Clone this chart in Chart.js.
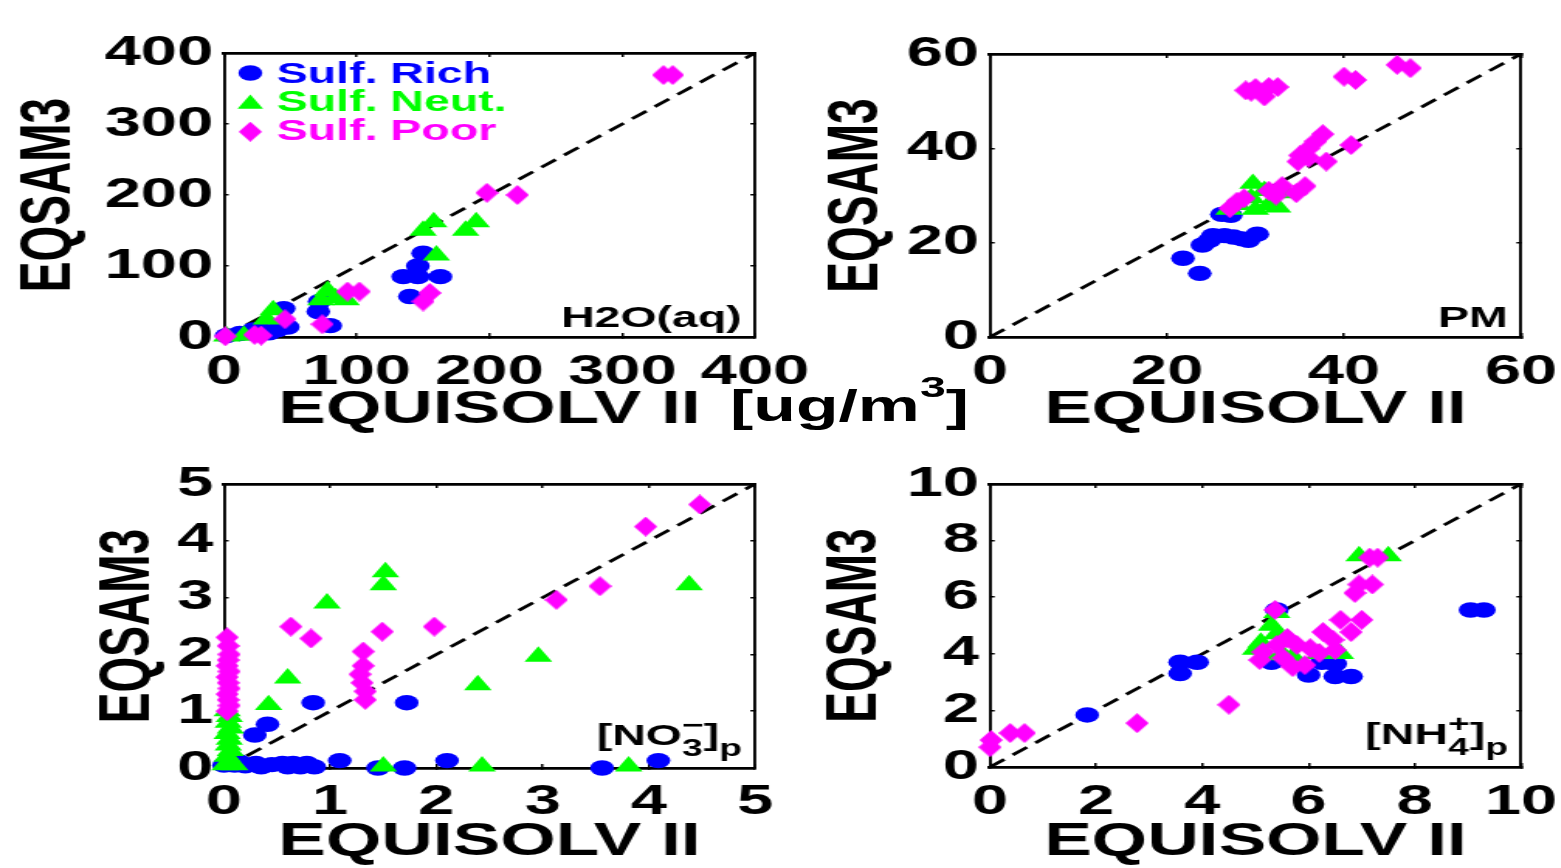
<!DOCTYPE html>
<html>
<head>
<meta charset="utf-8">
<script src="https://cdn.jsdelivr.net/npm/chart.js@4.4.1/dist/chart.umd.min.js"></script>
<style>
  html, body { margin: 0; padding: 0; background: #fff; overflow: hidden; }
  /* the original figure is stretched sideways, so the whole page is drawn narrow and scaled */
  #figure { position: absolute; left: 0; top: 0; width: 1007px; height: 868px;
            transform: scaleX(1.55); transform-origin: 0 0; }
  #figure canvas { position: absolute; }
  #units { position: absolute; left: 471px; top: 380px; line-height: 1; white-space: nowrap;
           font: bold 45px 'Liberation Sans', Arial, sans-serif; color: #000; }
  #units span { position: relative; top: -24px; font-size: 30px; line-height: 1; }
</style>
</head>
<body>
<div id="figure">
  <canvas id="h2o"></canvas>
  <canvas id="pm"></canvas>
  <canvas id="no3"></canvas>
  <canvas id="nh4"></canvas>
  <div id="units">[ug/m<span>3</span>]</div>
</div>
<script>
const FONT = "'Liberation Sans', Arial, sans-serif";

const seriesNames = ['Sulf. Rich', 'Sulf. Neut.', 'Sulf. Poor'];
const seriesColors = ['#0000ff', '#00ff00', '#ff00ff'];

// points are [EQUISOLV II, EQSAM3]
// H2O(aq)
const h2oTicks = [0, 100, 200, 300, 400];
const h2oRich = [[2, 2], [12, 5], [22, 10], [30, 8], [34, 6], [40, 10], [48, 14], [45, 40], [72, 50],
  [71, 36], [80, 16], [140, 57], [135, 85], [146, 85], [163, 85], [146, 100], [150, 118]];
const h2oNeut = [[2, 1], [15, 2], [32, 25], [37, 38], [73, 52], [78, 65], [84, 55], [92, 52],
  [150, 150], [158, 162], [182, 150], [190, 162], [160, 115]];
const h2oPoor = [[1, 1], [23, 3], [28, 2], [46, 25], [74, 18], [93, 64], [102, 64], [150, 50],
  [155, 62], [198, 203], [221, 200], [331, 369], [338, 369]];

// PM
const pmTicks = [0, 20, 40, 60];
const pmRich = [[21.8, 16.7], [23.7, 13.5], [24, 19.5], [24.8, 20.5], [25.2, 21.5], [26.5, 21.5],
  [27.5, 21.2], [28.5, 20.8], [29.2, 20.5], [30.2, 21.8], [26.2, 26], [27.2, 25.8]];
const pmNeut = [[27, 27], [28, 28], [29.5, 29.5], [29.7, 32.5], [31, 31], [31.5, 28], [32.5, 27.5],
  [33.5, 30.5], [30, 27]];
const pmPoor = [[27.1, 27.3], [27.9, 28.7], [28.7, 29.4], [31.5, 31], [32.3, 30], [33, 32], [34.6, 30.5],
  [35.6, 32], [34.8, 37.2], [36, 38], [38, 37.2], [35, 38.5], [36, 40], [36.8, 41.5], [37.6, 43],
  [40.8, 40.7], [28.9, 52.3], [29.5, 52], [30, 52.8], [31, 51], [31.5, 53], [32.5, 53], [40, 55.2],
  [41.3, 54.5], [46, 57.7], [47.5, 57]];

// [NO3-]p
const no3Ticks = [0, 1, 2, 3, 4, 5];
const no3Rich = [[0, 0.05], [0.05, 0.1], [0.1, 0.05], [0.15, 0.1], [0.2, 0.04], [0.3, 0.08], [0.35, 0.02],
  [0.45, 0.06], [0.55, 0.08], [0.6, 0.02], [0.65, 0.08], [0.72, 0.02], [0.78, 0.08], [0.85, 0.02],
  [1.09, 0.13], [1.45, 0], [1.7, 0], [2.1, 0.13], [3.56, 0], [4.09, 0.13], [0.29, 0.58], [0.41, 0.77],
  [0.84, 1.15], [1.72, 1.15]];
const no3Neut = [[0.01, 0.05], [0.1, 0.05], [0.03, 0.2], [0.06, 0.3], [0.04, 0.4], [0.05, 0.5], [0.03, 0.6],
  [0.06, 0.7], [0.04, 0.8], [0.05, 0.9], [0.03, 1.0], [0.42, 1.11], [0.6, 1.58], [0.97, 2.9], [1.5, 3.22],
  [1.52, 3.45], [1.5, 0.03], [2.43, 0.03], [2.39, 1.46], [2.96, 1.96], [3.81, 0.03], [4.38, 3.22]];
const no3Poor = [[0.03, 1.0], [0.05, 1.1], [0.04, 1.2], [0.03, 1.3], [0.05, 1.4], [0.04, 1.5], [0.03, 1.6],
  [0.05, 1.7], [0.03, 1.8], [0.04, 1.9], [0.05, 2.0], [0.04, 2.15], [0.03, 2.3], [0.63, 2.49], [0.82, 2.28],
  [1.33, 1.2], [1.33, 1.35], [1.3, 1.5], [1.28, 1.65], [1.31, 1.8], [1.31, 2.05], [1.49, 2.4], [1.98, 2.49],
  [3.13, 2.96], [3.54, 3.2], [3.97, 4.25], [4.48, 4.64]];

// [NH4+]p
const nh4Ticks = [0, 2, 4, 6, 8, 10];
const nh4Rich = [[1.83, 1.84], [3.58, 3.3], [3.58, 3.7], [3.9, 3.7], [5.3, 3.7], [5.4, 5.55], [6.0, 3.25],
  [6.25, 3.7], [6.5, 3.65], [6.5, 3.2], [6.8, 3.2], [9.05, 5.55], [9.3, 5.55]];
const nh4Neut = [[5.0, 4.15], [5.1, 4.4], [5.2, 3.95], [5.4, 4.7], [5.3, 5.0], [5.4, 5.45], [5.5, 4.0],
  [5.7, 3.9], [6.2, 4.0], [6.6, 4.0], [6.95, 7.45], [7.5, 7.45]];
const nh4Poor = [[0, 0.7], [0.02, 0.95], [0.38, 1.2], [0.65, 1.2], [2.77, 1.55], [4.5, 2.2], [5.08, 3.78],
  [5.14, 4.06], [5.4, 4.31], [5.52, 3.85], [5.6, 4.56], [5.7, 3.53], [5.78, 4.31], [5.93, 3.6], [6.03, 4.2],
  [6.2, 4.03], [6.27, 4.77], [6.46, 4.49], [6.5, 4.13], [6.6, 5.2], [6.8, 4.77], [7.0, 5.2], [5.37, 5.55],
  [6.87, 6.15], [6.95, 6.45], [7.2, 6.45], [7.15, 7.4], [7.3, 7.4]];

Chart.defaults.font.family = FONT;
Chart.defaults.color = '#000';

// diamonds in the figure are taller than the built-in rectRot
const diamond = document.createElement('canvas');
diamond.width = 15;
diamond.height = 20;
(function () {
  const c = diamond.getContext('2d');
  c.fillStyle = seriesColors[2];
  c.beginPath();
  c.moveTo(7.5, 0); c.lineTo(15, 10); c.lineTo(7.5, 20); c.lineTo(0, 10);
  c.closePath();
  c.fill();
})();

const toXY = pts => pts.map(([x, y]) => ({ x, y }));

// label in the lower right corner, with TeX-like sub/superscripts
function cornerTag(parts, lift) {
  return {
    id: 'cornerTag',
    afterDatasetsDraw(chart) {
      const { ctx, chartArea: a } = chart;
      const big = 'bold 30px ' + FONT, small = 'bold 24px ' + FONT;
      ctx.save();
      ctx.fillStyle = '#000';
      ctx.textBaseline = 'alphabetic';
      ctx.textAlign = 'left';
      const widths = parts.map(p => {
        if (p.text) { ctx.font = big; return ctx.measureText(p.text).width; }
        ctx.font = small;
        return Math.max(...[p.sup, p.sub].filter(Boolean).map(t => ctx.measureText(t).width));
      });
      let x = a.right - 8.5 - widths.reduce((s, w) => s + w, 0);
      const base = a.bottom - lift;
      parts.forEach((p, i) => {
        if (p.text) {
          ctx.font = big;
          ctx.fillText(p.text, x, base);
        } else {
          ctx.font = small;
          if (p.sup) ctx.fillText(p.sup, x, base - 12);
          if (p.sub) ctx.fillText(p.sub, x, base + 11);
        }
        x += widths[i];
      });
      ctx.restore();
    }
  };
}

// legend sits inside the first panel, markers then coloured text
const insetLegend = {
  id: 'insetLegend',
  afterDatasetsDraw(chart) {
    const { ctx, chartArea: a } = chart;
    const markerY = [20, 51, 78.7];
    const textY = [22, 50, 79];
    const mx = a.left + 17;
    ctx.save();
    ctx.font = 'bold 30px ' + FONT;
    ctx.textBaseline = 'middle';
    ctx.textAlign = 'left';
    seriesNames.forEach((name, i) => {
      const y = a.top + markerY[i];
      ctx.fillStyle = seriesColors[i];
      ctx.beginPath();
      if (i === 0) {
        ctx.arc(mx, y, 7.7, 0, Math.PI * 2);
        ctx.fill();
      } else if (i === 1) {
        const r = 9.5, h = r * Math.sin(Math.PI / 3);
        ctx.moveTo(mx, y - r); ctx.lineTo(mx + h, y + r / 2); ctx.lineTo(mx - h, y + r / 2);
        ctx.closePath();
        ctx.fill();
      } else {
        ctx.drawImage(diamond, mx - 7.5, y - 10);
      }
      ctx.fillText(name, a.left + 34, a.top + textY[i]);
    });
    ctx.restore();
  }
};

function axisBase(ticks, pos, horizontal, size) {
  const lo = ticks[0], hi = ticks[ticks.length - 1];
  return {
    type: 'linear',
    axis: horizontal ? 'x' : 'y',
    position: pos,
    min: lo,
    max: hi,
    ticks: { display: false, stepSize: ticks[1] - ticks[0] },
    grid: { drawOnChartArea: false, color: '#000', lineWidth: 1.5, tickLength: horizontal ? -4 : -3 },
    border: { display: true, color: '#000', width: horizontal ? 2.8 : 1.9 },
    afterFit: s => { if (horizontal) s.height = size; else s.width = size; }
  };
}

function drawPanel(id, ticks, rich, neut, poor, tag, lift, lay, extra) {
  const box = lay.box, area = lay.area;
  const canvas = document.getElementById(id);
  canvas.width = box.width;
  canvas.height = box.height;
  canvas.style.left = box.left + 'px';
  canvas.style.top = box.top + 'px';

  const yWidth = area.left - box.left;
  const xHeight = box.top + box.height - area.bottom;
  const tickFont = { size: 42, weight: 'bold' };
  const titleFont = { size: 46, weight: 'bold', lineHeight: 1 };
  const hi = ticks[ticks.length - 1];

  const x = axisBase(ticks, 'bottom', true, xHeight);
  x.ticks = { display: true, stepSize: ticks[1] - ticks[0], font: tickFont, color: '#000',
              padding: lay.xTickY - area.bottom + 4 - 25.2, maxRotation: 0, autoSkip: false };
  x.title = { display: true, text: 'EQUISOLV II', color: '#000', font: titleFont,
              padding: { top: 0, bottom: box.top + box.height - lay.xTitleY - 23 } };
  const y = axisBase(ticks, 'left', false, yWidth);
  y.ticks = { display: true, stepSize: ticks[1] - ticks[0], font: tickFont, color: '#000',
              padding: 10, autoSkip: false };
  y.title = { display: true, text: 'EQSAM3', color: '#000', font: titleFont,
              padding: { top: lay.yTitleX - box.left - 23, bottom: 0 } };

  const scatter = (data, i, style, radius, order) => ({
    label: seriesNames[i],
    data: toXY(data),
    pointStyle: style,
    pointRadius: radius,
    pointBorderWidth: 0,
    backgroundColor: seriesColors[i],
    borderColor: seriesColors[i],
    clip: false,
    order: order
  });

  new Chart(canvas, {
    type: 'scatter',
    data: {
      datasets: [
        scatter(rich, 0, 'circle', 7.7, 3),
        scatter(neut, 1, 'triangle', 10.3, 2),
        scatter(poor, 2, diamond, 10, 1),
        {
          label: '1:1',
          data: [{ x: ticks[0], y: ticks[0] }, { x: hi, y: hi }],
          showLine: true,
          pointRadius: 0,
          borderColor: '#000',
          borderWidth: 2.8,
          borderDash: [12, 7],
          order: 4
        }
      ]
    },
    options: {
      responsive: false,
      animation: false,
      events: [],
      layout: {
        autoPadding: false,
        padding: { left: 0, top: area.top - box.top, right: box.left + box.width - area.right, bottom: 0 }
      },
      plugins: { legend: { display: false }, tooltip: { enabled: false }, title: { display: false } },
      scales: {
        x: x,
        xTop: axisBase(ticks, 'top', true, 0),
        y: y,
        yRight: axisBase(ticks, 'right', false, 0)
      }
    },
    plugins: [cornerTag(tag, lift)].concat(extra || [])
  });
}

// canvases leave room on the right for the last tick label plus its padding
drawPanel('h2o', h2oTicks, h2oRich, h2oNeut, h2oPoor, [{ text: 'H2O(aq)' }], 10, {
  box: { left: 0, top: 0, width: 540, height: 437 },
  area: { left: 144.5, top: 53, right: 487.1, bottom: 337 },
  yTitleX: 32.3, xTitleY: 410, xTickY: 372
}, [insetLegend]);

drawPanel('pm', pmTicks, pmRich, pmNeut, pmPoor, [{ text: 'PM' }], 10, {
  box: { left: 520, top: 0, width: 525, height: 437 },
  area: { left: 638.7, top: 54, right: 981.3, bottom: 337 },
  yTitleX: 553.5, xTitleY: 410, xTickY: 372
});

drawPanel('no3', no3Ticks, no3Rich, no3Neut, no3Poor,
  [{ text: '[NO' }, { sup: '\u2212', sub: '3' }, { text: ']' }, { sub: 'p' }], 23, {
  box: { left: 0, top: 440, width: 540, height: 428 },
  area: { left: 144.5, top: 484, right: 487.1, bottom: 768 },
  yTitleX: 83.5, xTitleY: 842, xTickY: 802
});

drawPanel('nh4', nh4Ticks, nh4Rich, nh4Neut, nh4Poor,
  [{ text: '[NH' }, { sup: '+', sub: '4' }, { text: ']' }, { sub: 'p' }], 23, {
  box: { left: 520, top: 440, width: 525, height: 428 },
  area: { left: 638.7, top: 484, right: 981.3, bottom: 767 },
  yTitleX: 552, xTitleY: 842, xTickY: 802
});
</script>
</body>
</html>
